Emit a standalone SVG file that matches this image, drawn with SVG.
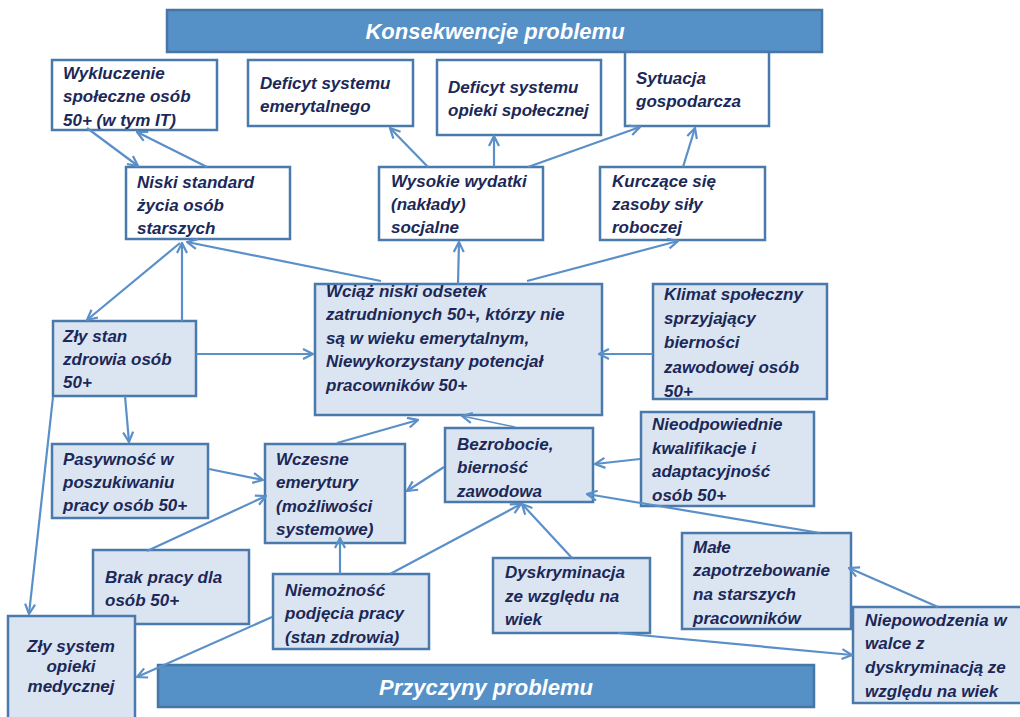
<svg xmlns="http://www.w3.org/2000/svg" width="1020" height="717" viewBox="0 0 1020 717">
<style>
.b{fill:#ffffff;stroke:#4A7AAB;stroke-width:2.5}
.l{fill:#DBE5F1;stroke:#4A7AAB;stroke-width:2.5}
.h{fill:#5590C7;stroke:#4676A6;stroke-width:2.5}
.t{font-family:"Liberation Sans",Arial,sans-serif;font-weight:bold;font-style:italic;font-size:17px;fill:#1B2858}
.ht{font-family:"Liberation Sans",Arial,sans-serif;font-weight:bold;font-style:italic;font-size:22px;fill:#ffffff}
.c{stroke:#5A8FC8;stroke-width:2.2;fill:none;marker-end:url(#a)}
.thin{stroke-width:1.4}
</style>
<defs>
<marker id="a" markerUnits="userSpaceOnUse" viewBox="0 0 12 12" refX="11" refY="6" markerWidth="12" markerHeight="12" orient="auto">
<path d="M1,1 L11,6 L1,11" fill="none" stroke="#5A8FC8" stroke-width="2.2"/>
</marker>
</defs>
<rect width="1020" height="717" fill="#ffffff"/>

<g id="konsekwencje">
<rect class="h" x="167" y="10" width="655" height="42"/>
<text class="ht" x="495" y="39" text-anchor="middle">Konsekwencje problemu</text>
</g>
<g id="przyczyny">
<rect class="h" x="158" y="665" width="656" height="42"/>
<text class="ht" x="486" y="695" text-anchor="middle">Przyczyny problemu</text>
</g>

<g id="wykluczenie">
<rect class="b" x="52" y="60" width="165" height="70"/>
<text class="t"><tspan x="63" y="79">Wykluczenie</tspan><tspan x="63" y="102">społeczne osób</tspan><tspan x="63" y="126">50+ (w tym IT)</tspan></text>
</g>
<g id="deficyt-emerytalny">
<rect class="b" x="248" y="60" width="165" height="66"/>
<text class="t"><tspan x="260" y="89">Deficyt systemu</tspan><tspan x="260" y="112">emerytalnego</tspan></text>
</g>
<g id="deficyt-opieki">
<rect class="b" x="437" y="60" width="164" height="75"/>
<text class="t"><tspan x="448" y="93">Deficyt systemu</tspan><tspan x="448" y="116">opieki społecznej</tspan></text>
</g>
<g id="sytuacja">
<rect class="b" x="625" y="52" width="144" height="74"/>
<text class="t"><tspan x="636" y="84">Sytuacja</tspan><tspan x="636" y="107">gospodarcza</tspan></text>
</g>
<g id="niski-standard">
<rect class="b" x="126" y="167" width="164" height="72"/>
<text class="t"><tspan x="137" y="188">Niski standard</tspan><tspan x="137" y="211">życia osób</tspan><tspan x="137" y="234">starszych</tspan></text>
</g>
<g id="wysokie-wydatki">
<rect class="b" x="379" y="167" width="164" height="73"/>
<text class="t"><tspan x="391" y="187">Wysokie wydatki</tspan><tspan x="391" y="210">(nakłady)</tspan><tspan x="391" y="233">socjalne</tspan></text>
</g>
<g id="kurczace">
<rect class="b" x="600" y="167" width="165" height="73"/>
<text class="t"><tspan x="612" y="187">Kurczące się</tspan><tspan x="612" y="210">zasoby siły</tspan><tspan x="612" y="233">roboczej</tspan></text>
</g>
<g id="wciaz-niski">
<rect class="l" x="315" y="284" width="287" height="131"/>
<text class="t"><tspan x="326" y="297">Wciąż niski odsetek</tspan><tspan x="326" y="320">zatrudnionych 50+, którzy nie</tspan><tspan x="326" y="344">są w wieku  emerytalnym,</tspan><tspan x="326" y="367">Niewykorzystany potencjał</tspan><tspan x="326" y="391">pracowników 50+</tspan></text>
</g>
<g id="klimat">
<rect class="l" x="653" y="284" width="174" height="115"/>
<text class="t"><tspan x="664" y="300">Klimat społeczny</tspan><tspan x="664" y="324">sprzyjający</tspan><tspan x="664" y="348">bierności</tspan><tspan x="664" y="373">zawodowej osób</tspan><tspan x="664" y="397">50+</tspan></text>
</g>
<g id="zly-stan">
<rect class="l" x="53" y="321" width="143" height="75"/>
<text class="t"><tspan x="63" y="342">Zły stan</tspan><tspan x="63" y="365">zdrowia osób</tspan><tspan x="63" y="388">50+</tspan></text>
</g>
<g id="pasywnosc">
<rect class="l" x="52" y="444" width="156" height="74"/>
<text class="t"><tspan x="63" y="465">Pasywność w</tspan><tspan x="63" y="488">poszukiwaniu</tspan><tspan x="63" y="511">pracy osób 50+</tspan></text>
</g>
<g id="wczesne">
<rect class="l" x="265" y="444" width="140" height="99"/>
<text class="t"><tspan x="276" y="465">Wczesne</tspan><tspan x="276" y="488">emerytury</tspan><tspan x="276" y="512">(możliwości</tspan><tspan x="276" y="535">systemowe)</tspan></text>
</g>
<g id="bezrobocie">
<rect class="l" x="445" y="428" width="148" height="74"/>
<text class="t"><tspan x="457" y="450">Bezrobocie,</tspan><tspan x="457" y="473">bierność</tspan><tspan x="457" y="497">zawodowa</tspan></text>
</g>
<g id="nieodpowiednie">
<rect class="l" x="641" y="412" width="173" height="94"/>
<text class="t"><tspan x="652" y="430">Nieodpowiednie</tspan><tspan x="652" y="454">kwalifikacje i</tspan><tspan x="652" y="477">adaptacyjność</tspan><tspan x="652" y="501">osób 50+</tspan></text>
</g>
<g id="brak-pracy">
<rect class="l" x="93" y="550" width="156" height="74"/>
<text class="t"><tspan x="105" y="583">Brak pracy  dla</tspan><tspan x="105" y="606">osób 50+</tspan></text>
</g>
<g id="zly-system">
<rect class="l" x="8" y="616" width="127" height="110"/>
<text class="t" text-anchor="middle"><tspan x="71" y="652">Zły system</tspan><tspan x="71" y="672">opieki</tspan><tspan x="71" y="692">medycznej</tspan></text>
</g>
<g id="niemoznosc">
<rect class="l" x="273" y="574" width="156" height="75"/>
<text class="t"><tspan x="285" y="596">Niemożność</tspan><tspan x="285" y="619">podjęcia pracy</tspan><tspan x="285" y="643">(stan zdrowia)</tspan></text>
</g>
<g id="dyskryminacja">
<rect class="l" x="493" y="558" width="157" height="75"/>
<text class="t"><tspan x="505" y="578">Dyskryminacja</tspan><tspan x="505" y="602">ze względu na</tspan><tspan x="505" y="625">wiek</tspan></text>
</g>
<g id="male-zapotrzebowanie">
<rect class="l" x="682" y="533" width="169" height="96"/>
<text class="t"><tspan x="693" y="553">Małe</tspan><tspan x="693" y="576">zapotrzebowanie</tspan><tspan x="693" y="600">na starszych</tspan><tspan x="693" y="624">pracowników</tspan></text>
</g>
<g id="niepowodzenia">
<rect class="l" x="853" y="607" width="180" height="96"/>
<text class="t"><tspan x="865" y="626">Niepowodzenia w</tspan><tspan x="865" y="649">walce z</tspan><tspan x="865" y="673">dyskryminacją ze</tspan><tspan x="865" y="697">względu na wiek</tspan></text>
</g>

<g id="connectors">
<line class="c" x1="87" y1="128" x2="138" y2="166"/>
<line class="c" x1="207" y1="167" x2="137" y2="132"/>
<line class="c" x1="428" y1="167" x2="390" y2="128"/>
<line class="c" x1="494" y1="167" x2="494" y2="136"/>
<line class="c" x1="528" y1="167" x2="640" y2="127"/>
<line class="c" x1="683" y1="167" x2="695" y2="128"/>
<line class="c" x1="458" y1="284" x2="459" y2="242"/>
<line class="c" x1="527" y1="281" x2="678" y2="241"/>
<line class="c" x1="381" y1="281" x2="187" y2="242"/>
<line class="c" x1="182" y1="321" x2="182" y2="243"/>
<line class="c" x1="180" y1="243" x2="87" y2="320"/>
<line class="c" x1="196" y1="354" x2="313" y2="354"/>
<line class="c" x1="653" y1="354" x2="599" y2="354"/>
<line class="c" x1="125" y1="396" x2="129" y2="442"/>
<line class="c" x1="53" y1="397" x2="29" y2="614"/>
<line class="c" x1="209" y1="469" x2="263" y2="480"/>
<line class="c" x1="147" y1="551" x2="266" y2="496"/>
<line class="c" x1="337" y1="443" x2="418" y2="420"/>
<line class="c thin" x1="515" y1="427" x2="462" y2="416"/>
<line class="c" x1="444" y1="467" x2="407" y2="491"/>
<line class="c" x1="640" y1="459" x2="595" y2="464"/>
<line class="c" x1="820" y1="533" x2="587" y2="494"/>
<line class="c" x1="340" y1="574" x2="340" y2="538"/>
<line class="c" x1="390" y1="574" x2="521" y2="504"/>
<line class="c" x1="572" y1="558" x2="522" y2="504"/>
<line class="c" x1="272" y1="617" x2="137" y2="677"/>
<line class="c" x1="618" y1="633" x2="852" y2="655"/>
<line class="c" x1="938" y1="607" x2="849" y2="568"/>
</g>
</svg>
